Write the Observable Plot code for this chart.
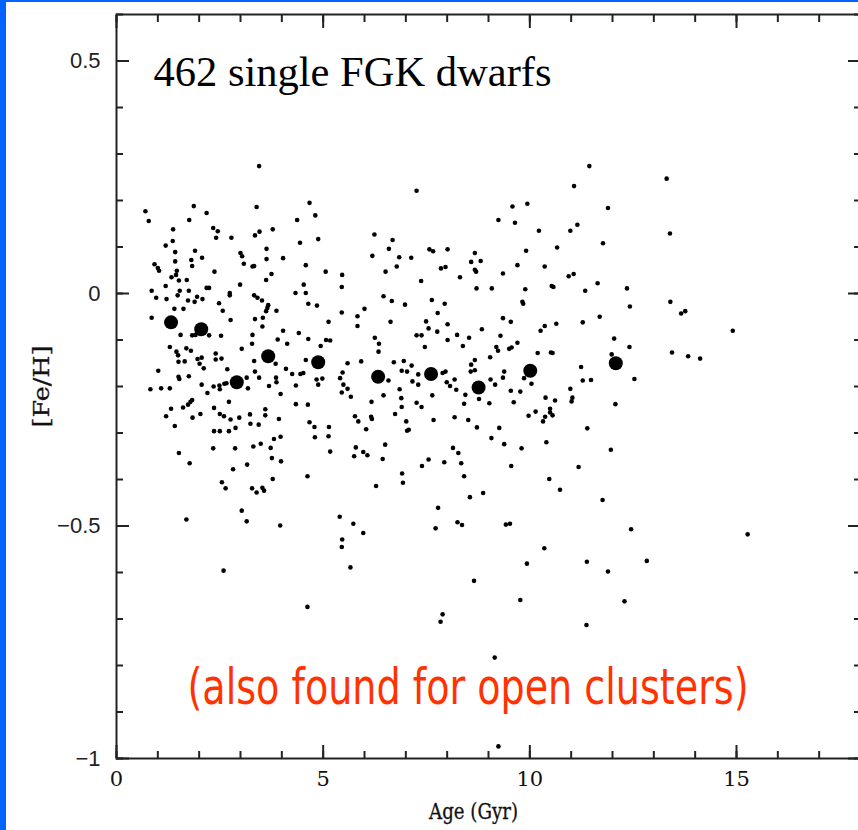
<!DOCTYPE html>
<html><head><meta charset="utf-8">
<script src="https://cdn.jsdelivr.net/npm/d3@7"></script>
<script src="https://cdn.jsdelivr.net/npm/@observablehq/plot@0.6"></script>
<style>
html,body{margin:0;padding:0;background:#fff;overflow:hidden;}
#wrap{position:relative;width:858px;height:830px;overflow:hidden;background:#fff;}
#chart{position:absolute;left:0;top:0;width:860px;height:830px;}
#chart svg{max-width:none !important;}
#bl{position:absolute;left:0;top:0;width:6px;height:830px;background:#0564ff;}
#bt{position:absolute;left:0;top:0;width:858px;height:2px;background:#0564ff;}
</style></head>
<body><div id="wrap"><div id="chart"></div><div id="bl"></div><div id="bt"></div></div>
<script>
// Individual stars: [age (Gyr), [Fe/H]]
const stars = [
[0.70,0.177],[0.78,0.156],[1.87,0.188],[2.18,0.173],[3.39,0.186],[4.67,0.195],[4.81,0.168],[1.76,0.158],[4.37,0.158],[1.37,0.138],
[2.34,0.141],[2.45,0.134],[2.41,0.120],[2.78,0.120],[3.35,0.125],[3.46,0.133],[3.78,0.138],[4.88,0.117],[4.44,0.109],[1.36,0.113],
[1.19,0.103],[1.90,0.092],[1.42,0.089],[2.07,0.077],[3.00,0.087],[3.04,0.080],[3.08,0.064],[3.63,0.096],[3.63,0.074],[4.03,0.076],
[0.92,0.063],[1.00,0.055],[1.03,0.049],[1.42,0.069],[1.81,0.072],[1.83,0.059],[3.33,0.059],[3.29,0.058],[4.58,0.061],[5.06,0.047],
[5.46,0.040],[1.46,0.049],[1.44,0.040],[1.33,0.035],[1.51,0.028],[1.70,0.029],[1.19,0.016],[2.37,0.047],[3.62,0.029],[3.75,0.042],
[2.99,0.019],[4.53,0.019],[5.45,0.014],[0.85,0.006],[1.53,0.006],[1.75,0.006],[2.18,0.012],[2.24,0.012],[2.74,0.001],[2.74,-0.004],
[0.96,-0.009],[1.21,-0.012],[1.48,-0.004],[1.73,-0.015],[1.95,-0.007],[1.89,-0.018],[2.08,-0.012],[3.33,-0.004],[3.41,-0.009],[3.52,-0.015],
[4.33,0.001],[4.58,0.001],[4.64,-0.022],[4.85,-0.026],[5.45,-0.041],[0.85,-0.052],[1.40,-0.033],[1.62,-0.033],[2.48,-0.021],[2.57,-0.037],
[2.76,-0.057],[3.35,-0.055],[3.54,-0.052],[3.62,-0.038],[3.67,-0.025],[3.65,-0.031],[3.87,-0.037],[5.13,-0.061],[3.53,-0.071],[1.55,-0.089],
[1.83,-0.090],[1.91,-0.089],[2.24,-0.090],[2.53,-0.091],[3.29,-0.089],[4.03,-0.080],[4.41,-0.085],[4.64,-0.098],[3.90,-0.099],[4.13,-0.108],
[5.07,-0.100],[5.17,-0.101],[4.94,-0.113],[1.29,-0.115],[1.45,-0.125],[1.49,-0.133],[1.50,-0.147],[1.69,-0.118],[1.80,-0.123],[2.06,-0.138],
[1.96,-0.141],[2.01,-0.151],[2.11,-0.161],[2.40,-0.129],[2.40,-0.142],[2.54,-0.140],[1.65,-0.146],[3.03,-0.119],[3.28,-0.108],[3.33,-0.145],
[3.85,-0.151],[4.58,-0.143],[5.59,-0.150],[1.01,-0.166],[1.50,-0.179],[1.52,-0.184],[1.75,-0.178],[2.68,-0.163],[3.35,-0.168],[3.45,-0.181],
[3.86,-0.181],[4.10,-0.162],[4.25,-0.173],[4.45,-0.173],[4.52,-0.171],[4.84,-0.185],[4.98,-0.183],[4.88,-0.196],[5.47,-0.170],[5.41,-0.182],
[0.82,-0.206],[1.08,-0.204],[1.29,-0.204],[2.06,-0.196],[2.35,-0.200],[2.49,-0.198],[2.50,-0.206],[2.61,-0.194],[2.66,-0.193],[3.15,-0.181],
[3.18,-0.204],[3.69,-0.199],[3.87,-0.191],[3.97,-0.216],[4.34,-0.198],[5.49,-0.196],[5.59,-0.205],[2.20,-0.214],[2.72,-0.233],[1.83,-0.229],
[1.79,-0.233],[1.73,-0.239],[1.61,-0.245],[1.32,-0.248],[1.20,-0.264],[1.41,-0.285],[1.84,-0.267],[2.03,-0.259],[2.36,-0.246],[2.50,-0.259],
[2.60,-0.264],[2.76,-0.271],[2.97,-0.267],[3.23,-0.260],[3.24,-0.280],[3.44,-0.282],[3.60,-0.249],[3.60,-0.262],[3.93,-0.270],[4.34,-0.238],
[4.63,-0.239],[4.67,-0.277],[4.79,-0.287],[5.14,-0.287],[5.45,-0.213],[5.67,-0.222],[2.36,-0.296],[2.50,-0.296],[2.72,-0.296],[2.88,-0.289],
[3.81,-0.313],[3.97,-0.308],
[7.26,0.221],[9.58,0.187],[9.94,0.193],[9.24,0.158],[9.64,0.152],[10.22,0.135],[6.24,0.127],[6.68,0.115],[6.59,0.096],[6.19,0.081],
[6.84,0.078],[7.13,0.077],[6.78,0.058],[6.51,0.047],[7.57,0.095],[7.66,0.091],[8.01,0.095],[8.67,0.087],[8.58,0.068],[8.81,0.070],
[8.67,0.051],[8.70,0.047],[7.85,0.054],[7.96,0.057],[8.31,0.035],[7.37,0.027],[9.35,0.043],[9.70,0.061],[9.91,0.092],[10.66,0.099],
[10.36,0.058],[8.71,0.011],[9.08,0.011],[9.89,0.009],[10.53,0.016],[10.57,0.014],[9.82,-0.018],[9.84,-0.022],[6.46,-0.006],[6.66,-0.016],
[6.98,-0.024],[5.83,-0.049],[6.00,-0.033],[5.83,-0.070],[6.63,-0.061],[7.63,-0.014],[7.94,-0.022],[7.77,-0.042],[7.49,-0.060],[7.55,-0.075],
[7.76,-0.082],[8.01,-0.066],[8.01,-0.100],[8.24,-0.089],[8.53,-0.095],[8.84,-0.077],[9.35,-0.053],[9.54,-0.061],[10.26,-0.080],[10.36,-0.070],
[10.64,-0.065],[7.26,-0.090],[7.38,-0.090],[7.46,-0.115],[6.25,-0.095],[6.35,-0.108],[6.34,-0.125],[8.38,-0.113],[9.04,-0.137],[9.19,-0.115],
[9.23,-0.123],[9.50,-0.119],[9.56,-0.116],[9.70,-0.106],[9.29,-0.091],[10.19,-0.128],[10.51,-0.127],[10.55,-0.128],[5.92,-0.146],[6.71,-0.148],
[6.95,-0.145],[6.90,-0.166],[7.03,-0.168],[7.14,-0.155],[7.30,-0.174],[6.58,-0.187],[7.89,-0.171],[7.96,-0.168],[8.18,-0.185],[7.16,-0.189],
[7.30,-0.196],[7.99,-0.191],[8.07,-0.199],[8.22,-0.207],[8.44,-0.218],[8.58,-0.153],[8.67,-0.143],[8.57,-0.168],[8.67,-0.165],[9.05,-0.185],
[9.16,-0.196],[9.35,-0.181],[9.38,-0.168],[9.86,-0.182],[10.04,-0.194],[9.54,-0.209],[9.77,-0.211],[9.02,-0.236],[8.77,-0.227],[8.41,-0.237],
[9.61,-0.234],[10.38,-0.224],[10.61,-0.230],[6.85,-0.206],[6.89,-0.225],[6.90,-0.244],[7.26,-0.235],[7.38,-0.244],[7.64,-0.219],[6.46,-0.219],
[6.17,-0.233],[5.77,-0.264],[5.85,-0.275],[6.16,-0.265],[6.18,-0.270],[6.04,-0.292],[6.74,-0.259],[7.01,-0.275],[7.03,-0.295],[7.07,-0.293],
[7.67,-0.272],[8.18,-0.266],[8.51,-0.272],[8.72,-0.288],[9.07,-0.311],[9.26,-0.289],[9.97,-0.263],[10.14,-0.254],[10.32,-0.275],[10.37,-0.265],
[10.49,-0.256],[10.49,-0.248],[10.55,-0.262],
[11.44,0.274],[11.07,0.231],[13.31,0.247],[11.89,0.184],[10.98,0.135],[11.15,0.148],[11.77,0.108],[13.39,0.129],[10.94,0.037],[11.06,0.042],
[11.64,0.022],[11.34,0.006],[12.35,0.011],[12.42,-0.028],[13.40,-0.018],[13.66,-0.043],[13.76,-0.038],[14.91,-0.080],[11.28,-0.062],[11.69,-0.050],
[12.04,-0.097],[12.41,-0.115],[11.98,-0.131],[11.24,-0.158],[11.28,-0.187],[11.48,-0.186],[12.53,-0.184],[13.44,-0.127],[13.83,-0.135],[14.12,-0.140],
[10.98,-0.205],[11.03,-0.224],[11.01,-0.232],[12.07,-0.238],[11.39,-0.290],[11.96,-0.336],[3.45,0.274],
[1.51,-0.343],[1.77,-0.365],[2.34,-0.333],[2.87,-0.333],[3.31,-0.329],[3.49,-0.323],[3.73,-0.332],[3.76,-0.354],[3.98,-0.361],[2.82,-0.378],
[3.16,-0.368],[2.55,-0.406],[2.64,-0.419],[3.28,-0.419],[3.39,-0.428],[3.53,-0.418],[3.57,-0.424],[3.78,-0.399],[3.03,-0.467],[3.15,-0.490],
[3.96,-0.499],[1.69,-0.486],[2.59,-0.596],[4.62,-0.393],[4.80,-0.309],[5.13,-0.307],[5.17,-0.340],[5.75,-0.350],[5.79,-0.331],[5.97,-0.341],
[6.07,-0.348],[6.50,-0.325],[6.44,-0.356],[6.28,-0.414],[5.40,-0.480],[5.46,-0.529],[5.45,-0.545],[5.73,-0.495],[5.97,-0.515],[5.66,-0.589],
[4.62,-0.674],[6.91,-0.387],[6.93,-0.407],[7.39,-0.371],[7.55,-0.357],[7.93,-0.363],[8.14,-0.332],[8.27,-0.343],[8.34,-0.365],[8.41,-0.393],
[8.55,-0.438],[7.78,-0.461],[7.72,-0.505],[8.25,-0.492],[8.36,-0.498],[8.65,-0.618],[7.89,-0.690],[7.84,-0.706],
[9.38,-0.324],[9.80,-0.333],[10.40,-0.320],[8.87,-0.429],[9.55,-0.371],[10.47,-0.399],[10.73,-0.422],[11.18,-0.373],[11.76,-0.444],[9.42,-0.497],
[9.52,-0.495],[12.45,-0.507],[15.27,-0.518],[10.35,-0.548],[9.93,-0.581],[11.38,-0.577],[11.89,-0.598],[12.83,-0.575],[9.77,-0.659],[12.29,-0.662],
[11.37,-0.713],[9.15,-0.783],[9.24,-0.974]
];

// Binned means
const meanAge = [1.32, 2.05, 2.91, 3.67, 4.88, 6.33, 7.61, 8.76, 10.01, 12.08];
const meanFeH = [-0.062, -0.077, -0.191, -0.135, -0.148, -0.179, -0.173, -0.202, -0.166, -0.150];

// Ticks
const xMajorTicks = [0, 5, 10, 15];
const xMinorTicks = [0,1,2,3,4,5,6,7,8,9,10,11,12,13,14,15,16,17,18];
const yMajorTicks = [-1, -0.5, 0, 0.5];
const yMinorTicks = [-1,-0.9,-0.8,-0.7,-0.6,-0.5,-0.4,-0.3,-0.2,-0.1,0,0.1,0.2,0.3,0.4,0.5,0.6];

const titleText = "462 single FGK dwarfs";
const noteText = "(also found for open clusters)";
const xLabel = "Age (Gyr)";
const yLabel = "[Fe/H]";

const starTable = stars.map(([age, feh]) => ({age, feh}));
const meanTable = meanAge.map((a, i) => ({age: a, feh: meanFeH[i]}));

const tickStroke = "#222";
const serif = "'Liberation Serif', 'DejaVu Serif', serif";
const slab = "'DejaVu Serif', 'Liberation Serif', serif";
const sans = "'Liberation Sans', Arial, sans-serif";

const chart = Plot.plot({
  width: 860,
  height: 830,
  marginLeft: 116,
  marginRight: 0,
  marginTop: 14,
  marginBottom: 72,
  style: {background: "transparent", overflow: "visible", maxWidth: "none"},
  x: {domain: [0, 18]},
  y: {domain: [-1, 0.6]},
  marks: [
    // minor ticks (inward) on all four sides
    Plot.axisX({ticks: xMinorTicks, anchor: "bottom", tickSize: -7, tickFormat: () => "", label: null, stroke: tickStroke, strokeWidth: 2}),
    Plot.axisX({ticks: xMinorTicks, anchor: "top", tickSize: -7, tickFormat: () => "", label: null, stroke: tickStroke, strokeWidth: 2}),
    Plot.axisY({ticks: yMinorTicks, anchor: "left", tickSize: -7, tickFormat: () => "", label: null, stroke: tickStroke, strokeWidth: 2}),
    Plot.axisY({ticks: yMinorTicks, anchor: "right", tickSize: -7, tickFormat: () => "", label: null, stroke: tickStroke, strokeWidth: 2}),
    // major ticks
    Plot.axisX({ticks: xMajorTicks, anchor: "bottom", tickSize: -13, tickFormat: () => "", label: null, stroke: tickStroke, strokeWidth: 2}),
    Plot.axisX({ticks: xMajorTicks, anchor: "top", tickSize: -13, tickFormat: () => "", label: null, stroke: tickStroke, strokeWidth: 2}),
    Plot.axisY({ticks: yMajorTicks, anchor: "left", tickSize: -13, tickFormat: () => "", label: null, stroke: tickStroke, strokeWidth: 2}),
    Plot.axisY({ticks: yMajorTicks, anchor: "right", tickSize: -13, tickFormat: () => "", label: null, stroke: tickStroke, strokeWidth: 2}),
    // tick labels
    Plot.axisX({ticks: xMajorTicks, anchor: "bottom", tickSize: 0, tickPadding: 13, tickFormat: d3.format(""), label: null, fontSize: 21, fontFamily: slab, fill: "#111", stroke: "#111", strokeWidth: 0.3}),
    Plot.axisY({ticks: yMajorTicks, anchor: "left", tickSize: 0, tickPadding: 16, tickFormat: d3.format(""), label: null, fontSize: 22, fontFamily: sans, fill: "#222"}),
    Plot.frame({stroke: tickStroke, strokeWidth: 2}),
    Plot.dot(starTable, {x: "age", y: "feh", r: 2.3, fill: "black", stroke: null}),
    Plot.dot(meanTable, {x: "age", y: "feh", r: 7, fill: "black", stroke: null}),
    Plot.text([titleText], {frameAnchor: "top-left", textAnchor: "start", lineAnchor: "bottom", dx: 37, dy: 71, fontSize: 42, fontFamily: serif, fill: "black", className: "ttl"}),
    Plot.text([noteText], {frameAnchor: "bottom", textAnchor: "middle", lineAnchor: "bottom", dx: -20.5, dy: -55, fontSize: 44, fontFamily: "'Liberation Sans Narrow', 'DejaVu Sans Condensed', 'Open Sans', sans-serif", fill: "#ff3300", className: "note"}),
    Plot.text([xLabel], {frameAnchor: "bottom", textAnchor: "middle", lineAnchor: "bottom", dx: -15, dy: 60, fontSize: 22, fontFamily: slab, fill: "#111", stroke: "#111", strokeWidth: 0.3, className: "xlab"}),
    Plot.text([yLabel], {frameAnchor: "left", textAnchor: "middle", lineAnchor: "bottom", rotate: -90, dx: -68, fontSize: 23, fontFamily: slab, fill: "#111", stroke: "#111", strokeWidth: 0.3, className: "ylab"})
  ]
});

document.getElementById("chart").appendChild(chart);
function fitText(sel, len) {
  const t = chart.querySelector(sel);
  if (t) { t.setAttribute("textLength", String(len)); t.setAttribute("lengthAdjust", "spacingAndGlyphs"); }
  return t;
}
const note = fitText(".note text", 561);
if (note) {
  note.style.fontStretch = "condensed";
  const tr = note.getAttribute("transform") || "";
  note.setAttribute("transform", (tr + " scale(1,1.12)").trim());
}
fitText(".ttl text", 398);
fitText(".xlab text", 89);
fitText(".ylab text", 82);
</script>
</body></html>
